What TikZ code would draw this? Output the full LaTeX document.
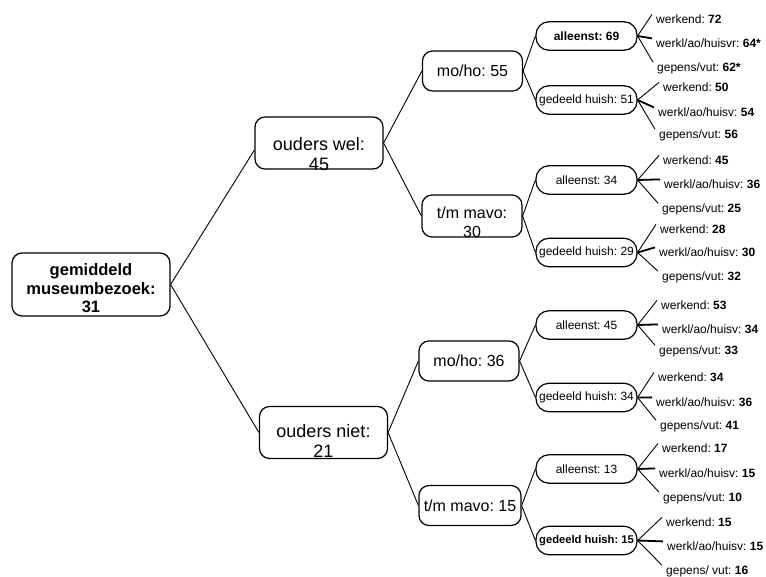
\documentclass[tikz,border=0pt]{standalone}
\usepackage{fontspec}
\setmainfont{Liberation Sans}
\frenchspacing
\usetikzlibrary{positioning}

\tikzset{
  box/.style={draw, line width=1.2pt, inner sep=0pt, rounded corners=10pt},
  rootbox/.style={box, minimum width=158pt, minimum height=63pt,
    font=\fontsize{16.5}{18.5}\selectfont\bfseries},
  lvlone/.style={box, minimum width=128pt, minimum height=52pt,
    font=\fontsize{18}{20}\selectfont},
  lvltwo/.style={box, minimum width=100pt, minimum height=40pt,
    font=\fontsize{16}{19}\selectfont},
  hhbox/.style={box, rounded corners=13pt, minimum width=101pt, minimum height=28.5pt,
    font=\fontsize{12}{14}\selectfont},
  leaf/.style={anchor=west, inner sep=0pt, font=\fontsize{12}{14}\selectfont},
  conn/.style={line width=0.9pt}
}

\begin{document}
\begin{tikzpicture}[x=1pt, y=-1pt]
  \useasboundingbox (0,0) rectangle (766,576);

  % boom: gemiddeld museumbezoek
  \node[rootbox] (gem) at (91,284.5)
    {\smash{\raisebox{-10.4pt}{\begin{tabular}{@{}c@{}}gemiddeld\\museumbezoek:\\31\end{tabular}}}};

  \node[lvlone] (wel) at (319,143)
    {\smash{\raisebox{-17.5pt}{\begin{tabular}{@{}c@{}}ouders wel:\\45\end{tabular}}}};
  \node[lvlone] (niet) at (323.5,432.5)
    {\smash{\raisebox{-15pt}{\begin{tabular}{@{}c@{}}ouders niet:\\21\end{tabular}}}};

  \node[lvltwo] (welho) at (472.5,71) {mo/ho: 55};
  \node[lvltwo, minimum height=42pt] (welmavo) at (472,216)
    {\smash{\raisebox{-12.7pt}{\begin{tabular}{@{}c@{}}t/m mavo:\\30\end{tabular}}}};
  \node[lvltwo] (nietho) at (469,361) {mo/ho: 36};
  \node[lvltwo, minimum width=102pt] (nietmavo) at (470,505.5) {t/m mavo: 15};

  % huishouden
  \node[hhbox] (h1) at (586.5,36) {\textbf{alleenst: 69}};
  \node[hhbox] (h2) at (586.5,100) {gedeeld huish: 51};
  \node[hhbox] (h3) at (586.5,180) {alleenst: 34};
  \node[hhbox] (h4) at (586.5,252.5) {gedeeld huish: 29};
  \node[hhbox] (h5) at (586.5,325) {alleenst: 45};
  \node[hhbox] (h6) at (586.5,397.5) {gedeeld huish: 34};
  \node[hhbox] (h7) at (586.5,469) {alleenst: 13};
  \node[hhbox] (h8) at (586.5,540.5) {\fontsize{11.2}{13}\selectfont\textbf{gedeeld huish: 15}};

  % positie
  \node[leaf] (h1a) at (656,19) {werkend: \textbf{72}};
  \node[leaf] (h1b) at (656,43) {werkl/ao/huisvr: \textbf{64*}};
  \node[leaf] (h1c) at (657,68) {gepens/vut: \textbf{62*}};
  \node[leaf] (h2a) at (663,87) {werkend: \textbf{50}};
  \node[leaf] (h2b) at (658,112) {werkl/ao/huisv: \textbf{54}};
  \node[leaf] (h2c) at (659,135) {gepens/vut: \textbf{56}};
  \node[leaf] (h3a) at (663,160) {werkend: \textbf{45}};
  \node[leaf] (h3b) at (664,184) {werkl/ao/huisv: \textbf{36}};
  \node[leaf] (h3c) at (662,209) {gepens/vut: \textbf{25}};
  \node[leaf] (h4a) at (660,229) {werkend: \textbf{28}};
  \node[leaf] (h4b) at (659,252) {werkl/ao/huisv: \textbf{30}};
  \node[leaf] (h4c) at (662,277) {gepens/vut: \textbf{32}};
  \node[leaf] (h5a) at (661,305) {werkend: \textbf{53}};
  \node[leaf] (h5b) at (662,329) {werkl/ao/huisv: \textbf{34}};
  \node[leaf] (h5c) at (659,351) {gepens/vut: \textbf{33}};
  \node[leaf] (h6a) at (658,377) {werkend: \textbf{34}};
  \node[leaf] (h6b) at (656,402) {werkl/ao/huisv: \textbf{36}};
  \node[leaf] (h6c) at (660,426) {gepens/vut: \textbf{41}};
  \node[leaf] (h7a) at (662,448) {werkend: \textbf{17}};
  \node[leaf] (h7b) at (659,473) {werkl/ao/huisv: \textbf{15}};
  \node[leaf] (h7c) at (663,498) {gepens/vut: \textbf{10}};
  \node[leaf] (h8a) at (666,522) {werkend: \textbf{15}};
  \node[leaf] (h8b) at (667,546) {werkl/ao/huisv: \textbf{15}};
  \node[leaf] (h8c) at (666,571) {gepens/ vut: \textbf{16}};

  % verbindingen
  \draw[conn] (gem.east) -- ([yshift=-7pt]wel.west);
  \draw[conn] (gem.east) -- (niet.west);
  \draw[conn] (wel.east) -- (welho.west);
  \draw[conn] (wel.east) -- (welmavo.west);
  \draw[conn] (niet.east) -- (nietho.west);
  \draw[conn] (niet.east) -- (nietmavo.west);
  \draw[conn] (welho.east) -- (h1.west);
  \draw[conn] (welho.east) -- (h2.west);
  \draw[conn] (welmavo.east) -- (h3.west);
  \draw[conn] (welmavo.east) -- (h4.west);
  \draw[conn] (nietho.east) -- (h5.west);
  \draw[conn] (nietho.east) -- (h6.west);
  \draw[conn] (nietmavo.east) -- (h7.west);
  \draw[conn] (nietmavo.east) -- (h8.west);
  \foreach \n in {1,...,8}{
    \draw[conn] (h\n.east) -- ([xshift=-4pt]h\n a.north west);
    \draw[conn, line width=1.8pt] (h\n.east) -- ([xshift=-4pt]h\n b.north west);
    \draw[conn] (h\n.east) -- ([xshift=-4pt]h\n c.north west);
  }
\end{tikzpicture}
\end{document}
